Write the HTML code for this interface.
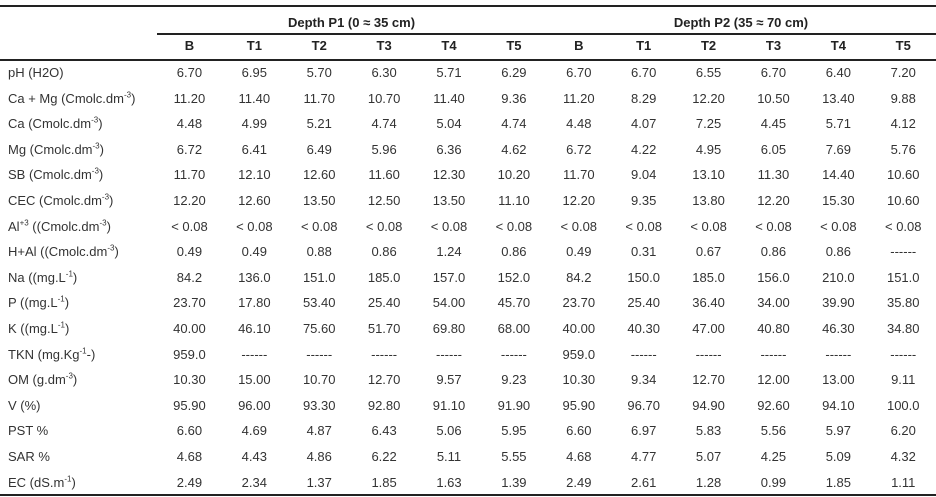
<!DOCTYPE html>
<html><head><meta charset="utf-8"><style>
body{margin:0;width:936px;height:497px;background:#fff;overflow:hidden;font-family:"Liberation Sans",sans-serif;color:#333;font-size:13px;position:relative}
.l{position:absolute;height:1.5px;background:#222}
.r{position:absolute;left:0;width:936px;height:20px;line-height:20px;display:flex}
.r span{display:block;width:64.9px;text-align:center;flex:none}
.r span.a{width:149px;padding-left:8px;text-align:left;box-sizing:border-box;width:157px}
.h{font-weight:bold;color:#222}
sup{font-size:8px;line-height:0}
.g{position:absolute;top:13px;font-weight:bold;color:#222;line-height:20px;text-align:center}
</style></head><body>
<div class="l" style="top:5px;left:0;width:936px"></div>
<div class="g" style="left:157px;width:389px">Depth P1 (0 ≈ 35 cm)</div>
<div class="g" style="left:546px;width:390px">Depth P2 (35 ≈ 70 cm)</div>
<div class="l" style="top:33px;left:157px;width:779px"></div>
<div class="r h" style="top:36px"><span class="a"></span><span>B</span><span>T1</span><span>T2</span><span>T3</span><span>T4</span><span>T5</span><span>B</span><span>T1</span><span>T2</span><span>T3</span><span>T4</span><span>T5</span></div>
<div class="l" style="top:59px;left:0;width:936px"></div>
<div class="r" style="top:63px"><span class="a">pH (H2O)</span><span>6.70</span><span>6.95</span><span>5.70</span><span>6.30</span><span>5.71</span><span>6.29</span><span>6.70</span><span>6.70</span><span>6.55</span><span>6.70</span><span>6.40</span><span>7.20</span></div>
<div class="r" style="top:88.6px"><span class="a">Ca + Mg (Cmolc.dm<sup>-3</sup>)</span><span>11.20</span><span>11.40</span><span>11.70</span><span>10.70</span><span>11.40</span><span>9.36</span><span>11.20</span><span>8.29</span><span>12.20</span><span>10.50</span><span>13.40</span><span>9.88</span></div>
<div class="r" style="top:114.2px"><span class="a">Ca (Cmolc.dm<sup>-3</sup>)</span><span>4.48</span><span>4.99</span><span>5.21</span><span>4.74</span><span>5.04</span><span>4.74</span><span>4.48</span><span>4.07</span><span>7.25</span><span>4.45</span><span>5.71</span><span>4.12</span></div>
<div class="r" style="top:139.8px"><span class="a">Mg (Cmolc.dm<sup>-3</sup>)</span><span>6.72</span><span>6.41</span><span>6.49</span><span>5.96</span><span>6.36</span><span>4.62</span><span>6.72</span><span>4.22</span><span>4.95</span><span>6.05</span><span>7.69</span><span>5.76</span></div>
<div class="r" style="top:165.4px"><span class="a">SB (Cmolc.dm<sup>-3</sup>)</span><span>11.70</span><span>12.10</span><span>12.60</span><span>11.60</span><span>12.30</span><span>10.20</span><span>11.70</span><span>9.04</span><span>13.10</span><span>11.30</span><span>14.40</span><span>10.60</span></div>
<div class="r" style="top:191px"><span class="a">CEC (Cmolc.dm<sup>-3</sup>)</span><span>12.20</span><span>12.60</span><span>13.50</span><span>12.50</span><span>13.50</span><span>11.10</span><span>12.20</span><span>9.35</span><span>13.80</span><span>12.20</span><span>15.30</span><span>10.60</span></div>
<div class="r" style="top:216.6px"><span class="a">Al<sup>+3</sup> ((Cmolc.dm<sup>-3</sup>)</span><span>&lt; 0.08</span><span>&lt; 0.08</span><span>&lt; 0.08</span><span>&lt; 0.08</span><span>&lt; 0.08</span><span>&lt; 0.08</span><span>&lt; 0.08</span><span>&lt; 0.08</span><span>&lt; 0.08</span><span>&lt; 0.08</span><span>&lt; 0.08</span><span>&lt; 0.08</span></div>
<div class="r" style="top:242.2px"><span class="a">H+Al ((Cmolc.dm<sup>-3</sup>)</span><span>0.49</span><span>0.49</span><span>0.88</span><span>0.86</span><span>1.24</span><span>0.86</span><span>0.49</span><span>0.31</span><span>0.67</span><span>0.86</span><span>0.86</span><span>------</span></div>
<div class="r" style="top:267.8px"><span class="a">Na ((mg.L<sup>-1</sup>)</span><span>84.2</span><span>136.0</span><span>151.0</span><span>185.0</span><span>157.0</span><span>152.0</span><span>84.2</span><span>150.0</span><span>185.0</span><span>156.0</span><span>210.0</span><span>151.0</span></div>
<div class="r" style="top:293.4px"><span class="a">P ((mg.L<sup>-1</sup>)</span><span>23.70</span><span>17.80</span><span>53.40</span><span>25.40</span><span>54.00</span><span>45.70</span><span>23.70</span><span>25.40</span><span>36.40</span><span>34.00</span><span>39.90</span><span>35.80</span></div>
<div class="r" style="top:319px"><span class="a">K ((mg.L<sup>-1</sup>)</span><span>40.00</span><span>46.10</span><span>75.60</span><span>51.70</span><span>69.80</span><span>68.00</span><span>40.00</span><span>40.30</span><span>47.00</span><span>40.80</span><span>46.30</span><span>34.80</span></div>
<div class="r" style="top:344.6px"><span class="a">TKN (mg.Kg<sup>-1</sup>-)</span><span>959.0</span><span>------</span><span>------</span><span>------</span><span>------</span><span>------</span><span>959.0</span><span>------</span><span>------</span><span>------</span><span>------</span><span>------</span></div>
<div class="r" style="top:370.2px"><span class="a">OM (g.dm<sup>-3</sup>)</span><span>10.30</span><span>15.00</span><span>10.70</span><span>12.70</span><span>9.57</span><span>9.23</span><span>10.30</span><span>9.34</span><span>12.70</span><span>12.00</span><span>13.00</span><span>9.11</span></div>
<div class="r" style="top:395.8px"><span class="a">V (%)</span><span>95.90</span><span>96.00</span><span>93.30</span><span>92.80</span><span>91.10</span><span>91.90</span><span>95.90</span><span>96.70</span><span>94.90</span><span>92.60</span><span>94.10</span><span>100.0</span></div>
<div class="r" style="top:421.4px"><span class="a">PST %</span><span>6.60</span><span>4.69</span><span>4.87</span><span>6.43</span><span>5.06</span><span>5.95</span><span>6.60</span><span>6.97</span><span>5.83</span><span>5.56</span><span>5.97</span><span>6.20</span></div>
<div class="r" style="top:447px"><span class="a">SAR %</span><span>4.68</span><span>4.43</span><span>4.86</span><span>6.22</span><span>5.11</span><span>5.55</span><span>4.68</span><span>4.77</span><span>5.07</span><span>4.25</span><span>5.09</span><span>4.32</span></div>
<div class="r" style="top:472.6px"><span class="a">EC (dS.m<sup>-1</sup>)</span><span>2.49</span><span>2.34</span><span>1.37</span><span>1.85</span><span>1.63</span><span>1.39</span><span>2.49</span><span>2.61</span><span>1.28</span><span>0.99</span><span>1.85</span><span>1.11</span></div>
<div class="l" style="top:494px;left:0;width:936px"></div>
</body></html>
